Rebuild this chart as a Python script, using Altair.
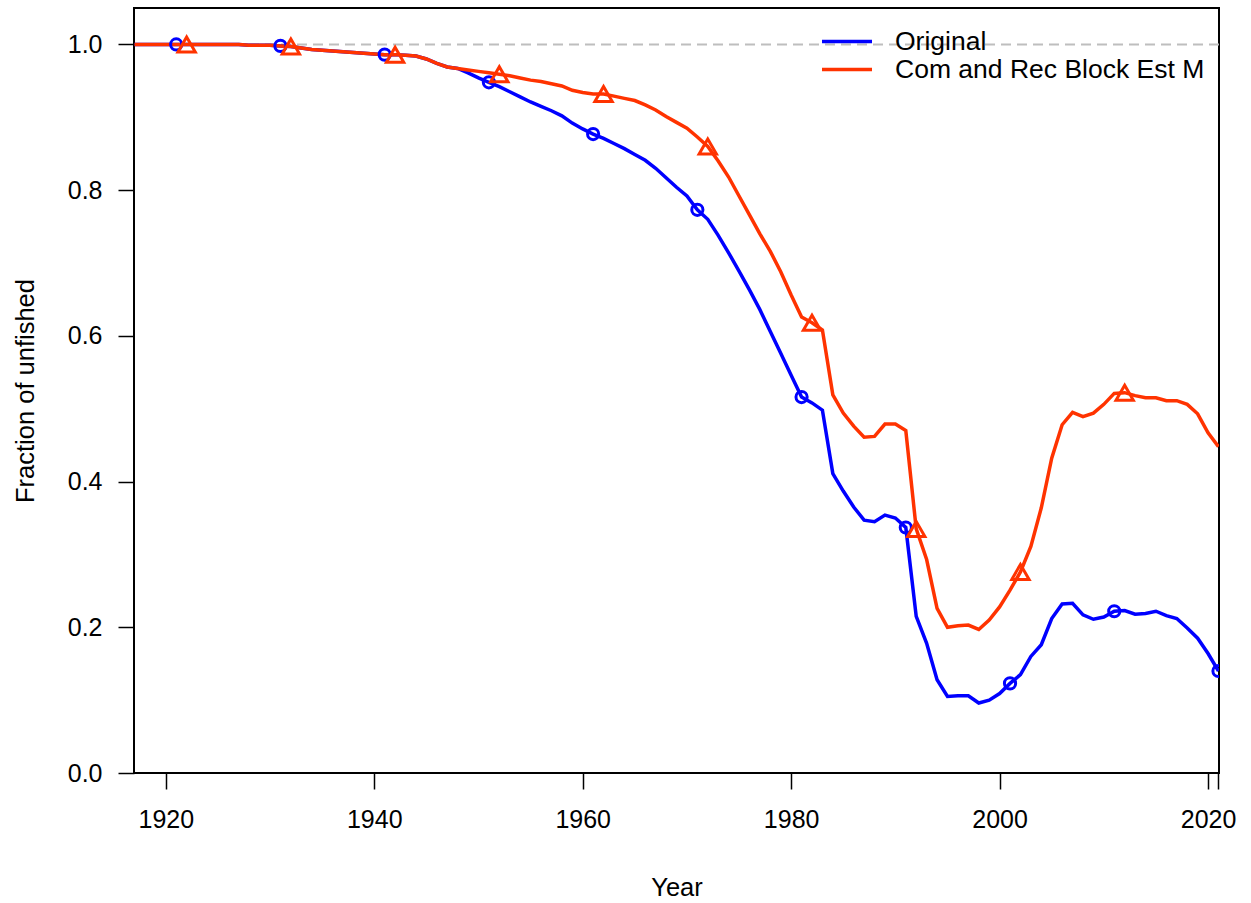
import altair as alt
import pandas as pd

years = list(range(1917, 2022))

original = [
    1.000, 1.000, 1.000,                                                   # 1917-1919
    1.000, 1.000, 1.000, 1.000, 1.000, 1.000, 1.000, 1.000, 0.999, 0.999,  # 1920s
    0.999, 0.998, 0.997, 0.995, 0.993, 0.992, 0.991, 0.990, 0.989, 0.988,  # 1930s
    0.987, 0.986, 0.986, 0.985, 0.984, 0.980, 0.974, 0.969, 0.967, 0.961,  # 1940s
    0.954, 0.948, 0.942, 0.935, 0.928, 0.921, 0.915, 0.909, 0.902, 0.892,  # 1950s
    0.884, 0.877, 0.871, 0.864, 0.857, 0.849, 0.841, 0.830, 0.817, 0.804,  # 1960s
    0.792, 0.773, 0.760, 0.738, 0.714, 0.689, 0.663, 0.636, 0.606, 0.576,  # 1970s
    0.546, 0.516, 0.508, 0.498, 0.411, 0.387, 0.365, 0.347, 0.345, 0.354,  # 1980s
    0.350, 0.337, 0.215, 0.178, 0.128, 0.105, 0.106, 0.106, 0.096, 0.100,  # 1990s
    0.109, 0.123, 0.135, 0.160, 0.176, 0.212, 0.232, 0.233, 0.217, 0.211,  # 2000s
    0.214, 0.222, 0.223, 0.218, 0.219, 0.222, 0.216, 0.212, 0.199, 0.185,  # 2010s
    0.164, 0.140,                                                          # 2020-2021
]

block_est_m = [
    1.000, 1.000, 1.000,
    1.000, 1.000, 1.000, 1.000, 1.000, 1.000, 1.000, 1.000, 0.999, 0.999,
    0.999, 0.998, 0.997, 0.995, 0.993, 0.992, 0.991, 0.990, 0.989, 0.988,
    0.987, 0.986, 0.986, 0.985, 0.984, 0.980, 0.974, 0.969, 0.967, 0.965,
    0.963, 0.961, 0.959, 0.957, 0.954, 0.951, 0.949, 0.946, 0.943, 0.937,
    0.934, 0.932, 0.932, 0.929, 0.926, 0.923, 0.917, 0.910, 0.901, 0.893,
    0.885, 0.873, 0.860, 0.840, 0.818, 0.792, 0.766, 0.740, 0.716, 0.688,
    0.656, 0.626, 0.618, 0.608, 0.519, 0.494, 0.476, 0.461, 0.462, 0.479,
    0.479, 0.470, 0.335, 0.293, 0.226, 0.200, 0.202, 0.203, 0.197, 0.210,
    0.228, 0.251, 0.276, 0.311, 0.364, 0.432, 0.478, 0.495, 0.489, 0.494,
    0.506, 0.521, 0.522, 0.518, 0.515, 0.515, 0.511, 0.511, 0.506, 0.493,
    0.467, 0.448,
]

series_names = ["Original", "Com and Rec Block Est M"]
series_colors = ["#0000FF", "#FF3300"]
marker_years_original = list(range(1921, 2022, 10))
marker_years_block = list(range(1922, 2022, 10))
x_tick_values = [1920, 1940, 1960, 1980, 2000, 2020, 2021]
y_tick_values = [0.0, 0.2, 0.4, 0.6, 0.8, 1.0]

df = pd.concat([
    pd.DataFrame({"Year": years, "value": original, "series": series_names[0]}),
    pd.DataFrame({"Year": years, "value": block_est_m, "series": series_names[1]}),
])
df_orig_pts = df[(df.series == series_names[0]) & (df.Year.isin(marker_years_original))]
df_block_pts = df[(df.series == series_names[1]) & (df.Year.isin(marker_years_block))]

FONT = "Liberation Sans"

xscale = alt.Scale(domain=[1916.95, 2021.05], nice=False, zero=False)
yscale = alt.Scale(domain=[0, 1.05], nice=False, zero=True)

xenc = alt.X(
    "Year:Q", scale=xscale,
    axis=alt.Axis(
        title="Year", values=x_tick_values, format="d",
        labelExpr="datum.value == 2021 ? '' : datum.label",
        grid=False, domain=False, tickColor="black", tickWidth=1.5, tickSize=16,
        labelFontSize=25, labelColor="black", labelPadding=18, labelFont=FONT,
        labelFlush=False, labelOverlap=False,
        titleFontSize=25.5, titleFont=FONT, titleFontWeight="normal", titleColor="black",
        titleX=542.5, titleY=114, titleBaseline="middle", titleAlign="center",
    ),
)
yenc = alt.Y(
    "value:Q", scale=yscale,
    axis=alt.Axis(
        title="Fraction of unfished", values=y_tick_values, format=".1f",
        grid=False, domain=False, tickColor="black", tickWidth=1.5, tickSize=16,
        labelFontSize=25, labelColor="black", labelPadding=16, labelFont=FONT,
        labelFlush=False,
        titleFontSize=25.5, titleFont=FONT, titleFontWeight="normal", titleColor="black",
        titleX=-109, titleY=382.5, titleAngle=-90, titleBaseline="middle", titleAlign="center",
    ),
)

ref_line = alt.Chart(pd.DataFrame({"ref": [1.0]})).mark_rule(
    color="#BEBEBE", strokeWidth=2, strokeDash=[10, 6]
).encode(y=alt.Y("ref:Q", scale=yscale))

lines = alt.Chart(df).mark_line(strokeWidth=3.5, clip=True).encode(
    x=xenc,
    y=yenc,
    color=alt.Color(
        "series:N",
        scale=alt.Scale(domain=series_names, range=series_colors),
        legend=alt.Legend(
            title=None, orient="none", legendX=698.5, legendY=19,
            symbolType="M-2,0H2", symbolSize=625, symbolStrokeWidth=3.5,
            labelFontSize=26.5, labelFont=FONT, labelColor="black", labelOffset=33.5,
            rowPadding=-1, padding=0, labelLimit=500,
        ),
    ),
    detail="series:N",
)

pts_orig = alt.Chart(df_orig_pts).mark_point(
    shape="circle", size=125, filled=False, strokeWidth=3, color="#0000FF", opacity=1, clip=True
).encode(x=alt.X("Year:Q", scale=xscale), y=alt.Y("value:Q", scale=yscale))

pts_block = alt.Chart(df_block_pts).mark_point(
    shape="triangle-up", size=300, filled=False, strokeWidth=3, color="#FF3300", opacity=1, clip=True
).encode(x=alt.X("Year:Q", scale=xscale), y=alt.Y("value:Q", scale=yscale))

chart = alt.layer(ref_line, lines, pts_orig, pts_block).properties(
    width=1085, height=765,
    background="white",
    autosize=alt.AutoSizeParams(type="none"),
    padding={"left": 134, "top": 8, "right": 32, "bottom": 130},
).configure_view(
    stroke="black", strokeWidth=2
)

chart.save("out.html", embed_options={"renderer": "svg", "actions": False})
